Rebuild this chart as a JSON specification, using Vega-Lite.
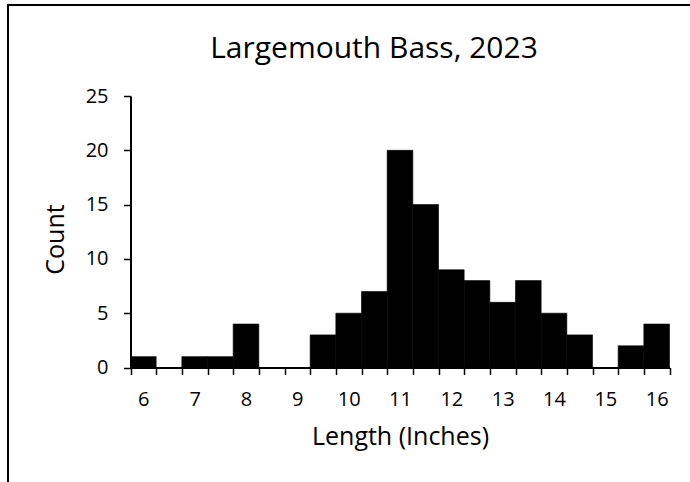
{
  "$schema": "https://vega.github.io/schema/vega-lite/v6.json",
  "autosize": {"type": "none"},
  "padding": {"left": 8, "top": 5, "right": -8, "bottom": -23},
  "width": 690,
  "height": 500,
  "background": "white",
  "title": {
    "text": "Largemouth Bass, 2023",
    "font": "Open Sans",
    "fontSize": 30,
    "fontWeight": "normal",
    "color": "black",
    "anchor": "middle",
    "dx": 21,
    "baseline": "alphabetic",
    "offset": -83
  },
  "data": {
    "values": [
      {"lo": 5.75, "hi": 6.25, "count": 1},
      {"lo": 6.25, "hi": 6.75, "count": 0},
      {"lo": 6.75, "hi": 7.25, "count": 1},
      {"lo": 7.25, "hi": 7.75, "count": 1},
      {"lo": 7.75, "hi": 8.25, "count": 4},
      {"lo": 8.25, "hi": 8.75, "count": 0},
      {"lo": 8.75, "hi": 9.25, "count": 0},
      {"lo": 9.25, "hi": 9.75, "count": 3},
      {"lo": 9.75, "hi": 10.25, "count": 5},
      {"lo": 10.25, "hi": 10.75, "count": 7},
      {"lo": 10.75, "hi": 11.25, "count": 20},
      {"lo": 11.25, "hi": 11.75, "count": 15},
      {"lo": 11.75, "hi": 12.25, "count": 9},
      {"lo": 12.25, "hi": 12.75, "count": 8},
      {"lo": 12.75, "hi": 13.25, "count": 6},
      {"lo": 13.25, "hi": 13.75, "count": 8},
      {"lo": 13.75, "hi": 14.25, "count": 5},
      {"lo": 14.25, "hi": 14.75, "count": 3},
      {"lo": 14.75, "hi": 15.25, "count": 0},
      {"lo": 15.25, "hi": 15.75, "count": 2},
      {"lo": 15.75, "hi": 16.25, "count": 4}
    ]
  },
  "mark": {"type": "rect", "color": "black", "stroke": "black", "strokeWidth": 0.6},
  "encoding": {
    "x": {
      "field": "lo",
      "type": "quantitative",
      "scale": {"domain": [5.75, 16.25], "range": [122.5, 661.5], "nice": false, "zero": false},
      "axis": {
        "title": "Length (Inches)",
        "offset": -137.5,
        "values": [5.75, 6.25, 6.75, 7.25, 7.75, 8.25, 8.75, 9.25, 9.75, 10.25, 10.75, 11.25, 11.75, 12.25, 12.75, 13.25, 13.75, 14.25, 14.75, 15.25, 15.75, 16.25],
        "labelExpr": "datum.value % 1 == 0.75 ? format(datum.value + 0.25, 'd') : ''",
        "labelOffset": 12.83,
        "labelOverlap": false,
        "labelFlush": false,
        "labelBound": false,
        "labelFont": "Open Sans",
        "labelFontSize": 20,
        "labelColor": "black",
        "labelBaseline": "alphabetic",
        "labelPadding": 30.5,
        "tickSize": 7,
        "tickWidth": 1.5,
        "tickColor": "black",
        "domainColor": "black",
        "domainWidth": 2,
        "grid": false,
        "titleFont": "Open Sans",
        "titleFontSize": 25,
        "titleFontWeight": "normal",
        "titleColor": "black",
        "titleBaseline": "alphabetic",
        "titleY": 76.5
      }
    },
    "x2": {"field": "hi"},
    "y": {
      "field": "count",
      "type": "quantitative",
      "scale": {"domain": [0, 25], "range": [362.5, 91], "nice": false},
      "axis": {
        "title": "Count",
        "offset": -122.5,
        "values": [0, 5, 10, 15, 20, 25],
        "labelFont": "Open Sans",
        "labelFontSize": 20,
        "labelColor": "black",
        "labelPadding": 15.5,
        "labelOverlap": false,
        "labelFlush": false,
        "labelBound": false,
        "tickSize": 7,
        "tickWidth": 1.5,
        "tickColor": "black",
        "domainColor": "black",
        "domainWidth": 2,
        "grid": false,
        "titleFont": "Open Sans",
        "titleFontSize": 25,
        "titleFontWeight": "normal",
        "titleColor": "black",
        "titleAngle": -90,
        "titleBaseline": "alphabetic",
        "titleAlign": "center",
        "titleX": -67.5,
        "titleY": 234
      }
    },
    "y2": {"datum": 0}
  },
  "config": {
    "view": {"stroke": "black", "strokeWidth": 2, "fill": "white"}
  }
}
